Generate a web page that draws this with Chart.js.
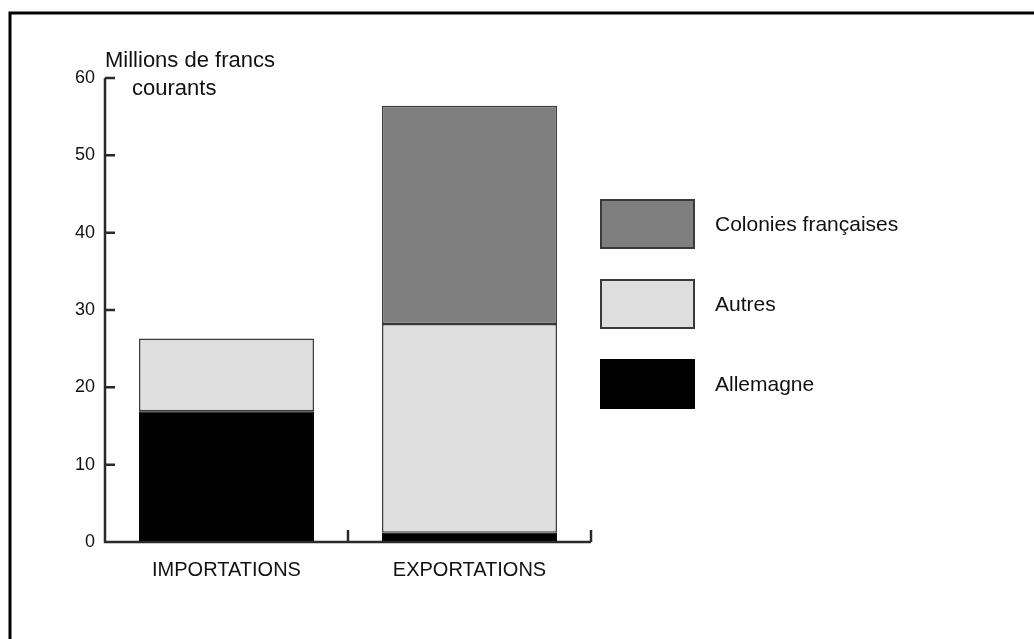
<!DOCTYPE html>
<html>
<head>
<meta charset="utf-8">
<script src="https://cdn.jsdelivr.net/npm/chart.js@4"></script>
<style>
  html, body { margin: 0; padding: 0; background: #fff; }
  #wrap { width: 1034px; height: 639px; position: relative; }
</style>
</head>
<body>
<div id="wrap"><canvas id="c"></canvas></div>
<script>
const categories = ['IMPORTATIONS', 'EXPORTATIONS'];
const allemagne = [16.9, 1.2];
const autres = [9.4, 27.0];
const colonies = [0, 28.2];
const yTicks = [0, 10, 20, 30, 40, 50, 60];
const axisTitle = ['Millions de francs', 'courants'];

const FONT = '"Liberation Sans", Arial, sans-serif';

// axis lines with inward ticks, frame, title and legend
const decor = {
  id: 'decor',
  afterDraw(chart) {
    const ctx = chart.ctx;
    const area = chart.chartArea;
    const y = chart.scales.y;
    const x = chart.scales.x;
    ctx.save();

    // frame (top + left)
    ctx.strokeStyle = '#000';
    ctx.lineWidth = 3;
    ctx.beginPath();
    ctx.moveTo(10, 639);
    ctx.lineTo(10, 13);
    ctx.lineTo(1034, 13);
    ctx.stroke();

    // axes
    ctx.strokeStyle = '#2a2a2a';
    ctx.lineWidth = 2.5;
    ctx.beginPath();
    ctx.moveTo(area.left, y.getPixelForValue(60));
    ctx.lineTo(area.left, area.bottom);
    ctx.lineTo(area.right, area.bottom);
    ctx.stroke();
    ctx.beginPath();
    yTicks.forEach((v) => {
      if (v === 0) return;
      const py = y.getPixelForValue(v);
      ctx.moveTo(area.left, py);
      ctx.lineTo(area.left + 10, py);
    });
    for (let i = 0; i < categories.length; i++) {
      const bx = i + 1 < categories.length
        ? (x.getPixelForTick(i) + x.getPixelForTick(i + 1)) / 2
        : area.right;
      ctx.moveTo(bx, area.bottom);
      ctx.lineTo(bx, area.bottom - 12);
    }
    ctx.stroke();

    // axis title
    ctx.fillStyle = '#111';
    ctx.font = '22px ' + FONT;
    ctx.textAlign = 'left';
    ctx.textBaseline = 'middle';
    ctx.fillText(axisTitle[0], 105, 61);
    ctx.fillText(axisTitle[1], 132, 89);

    // legend
    const items = chart.data.datasets.slice().reverse();
    items.forEach((ds, i) => {
      const top = 200 + i * 80;
      ctx.fillStyle = ds.backgroundColor;
      ctx.fillRect(601, top, 93, 48);
      ctx.strokeStyle = ds.borderColor;
      ctx.lineWidth = 2;
      ctx.strokeRect(601, top, 93, 48);
      ctx.fillStyle = '#111';
      ctx.font = '21px ' + FONT;
      ctx.fillText(ds.label, 715, top + 25);
    });
    ctx.restore();
  }
};

new Chart(document.getElementById('c'), {
  type: 'bar',
  data: {
    labels: categories,
    datasets: [
      { label: 'Allemagne', data: allemagne, backgroundColor: '#000000', borderColor: '#000000', borderWidth: 1 },
      { label: 'Autres', data: autres, backgroundColor: '#dedede', borderColor: '#3a3a3a', borderWidth: 1.5 },
      { label: 'Colonies françaises', data: colonies, backgroundColor: '#7f7f7f', borderColor: '#3a3a3a', borderWidth: 1.5 }
    ]
  },
  options: {
    responsive: true,
    maintainAspectRatio: false,
    animation: false,
    devicePixelRatio: 1,
    layout: { padding: { top: 78, right: 443, left: 0, bottom: 0 } },
    plugins: { legend: { display: false }, tooltip: { enabled: false } },
    datasets: { bar: { categoryPercentage: 1, barPercentage: 0.72, borderSkipped: false } },
    scales: {
      x: {
        stacked: true,
        grid: { display: false, drawTicks: false },
        border: { display: false },
        ticks: { color: '#111', font: { family: FONT, size: 20 }, padding: 16 },
        afterFit(scale) { scale.height = 97; }
      },
      y: {
        stacked: true,
        min: 0,
        max: 60,
        grid: { display: false, drawTicks: false },
        border: { display: false },
        ticks: { stepSize: 10, color: '#111', font: { family: FONT, size: 18 }, padding: 10 },
        afterFit(scale) { scale.width = 105; }
      }
    }
  },
  plugins: [decor]
});
</script>
</body>
</html>
